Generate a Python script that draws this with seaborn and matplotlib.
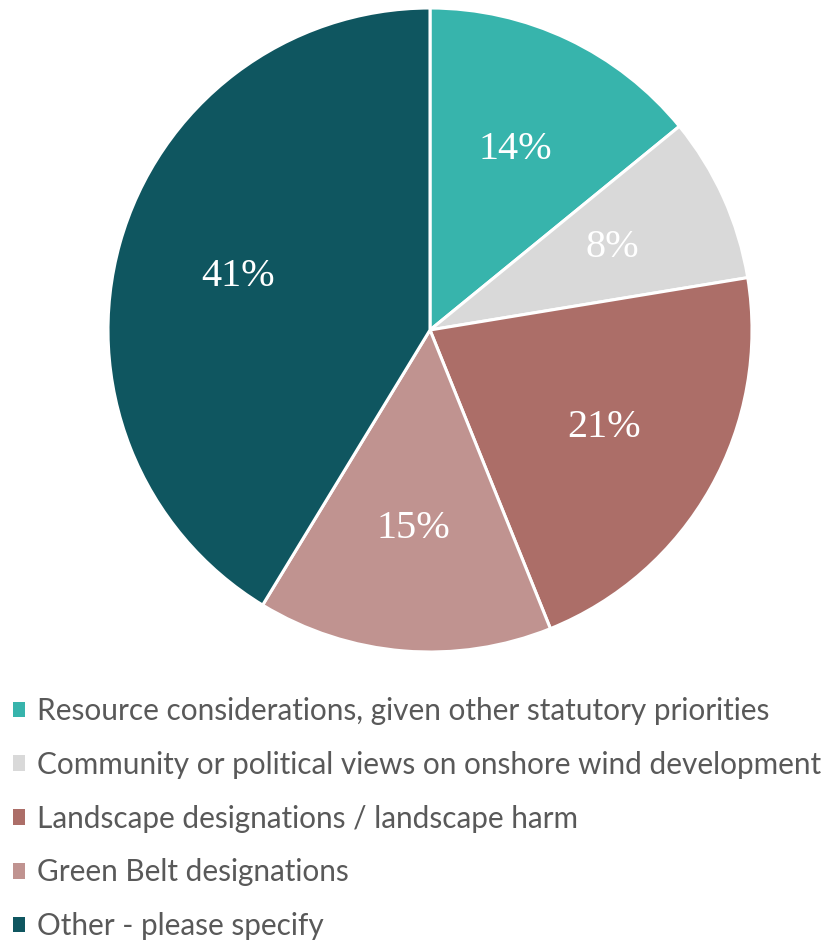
import matplotlib
matplotlib.use("Agg")
import matplotlib.pyplot as plt
import seaborn as sns
import numpy as np

categories = [
    "Resource considerations, given other statutory priorities",
    "Community or political views on onshore wind development",
    "Landscape designations / landscape harm",
    "Green Belt designations",
    "Other - please specify",
]
values = [14.1, 8.3, 21.5, 14.8, 41.3]
pct_labels = ["14%", "8%", "21%", "15%", "41%"]
colors_hex = ["#37B4AC", "#D9D9D9", "#AC6E68", "#C09390", "#0F5660"]

sns.set_theme(style="white")
palette = sns.color_palette(colors_hex)

W, H = 824, 940
fig = plt.figure(figsize=(W / 100, H / 100), dpi=100)
cx, cy, r = 430, 330, 322
ax = fig.add_axes([(cx - r) / W, (H - cy - r) / H, 2 * r / W, 2 * r / H])

wedges, texts = ax.pie(
    values,
    colors=palette,
    startangle=90,
    counterclock=False,
    radius=1.0,
    wedgeprops=dict(edgecolor="white", linewidth=2.2),
)
theta = 90.0
tot = sum(values)
for v, lab in zip(values, pct_labels):
    mid = theta - v / tot * 360 / 2
    theta -= v / tot * 360
    x = 0.62 * np.cos(np.deg2rad(mid))
    y = 0.62 * np.sin(np.deg2rad(mid))
    ax.text(x, y, lab, ha="center", va="center", color="white",
            fontsize=29, family="Liberation Serif")
ax.set_xlim(-1, 1)
ax.set_ylim(-1, 1)
ax.set_aspect("equal")
ax.axis("off")

leg = fig.legend(
    wedges, categories,
    loc="upper left",
    bbox_to_anchor=(4 / W, (H - 688) / H),
    frameon=False,
    prop=dict(family="Lato", size=21.4),
    labelcolor="#595959",
    handlelength=0.42, handleheight=0.42,
    handletextpad=0.4,
    labelspacing=0.87,
    borderaxespad=0, borderpad=0.3,
)
for h in leg.legend_handles:
    h.set_edgecolor("none")

fig.savefig("out.png", dpi=100)
